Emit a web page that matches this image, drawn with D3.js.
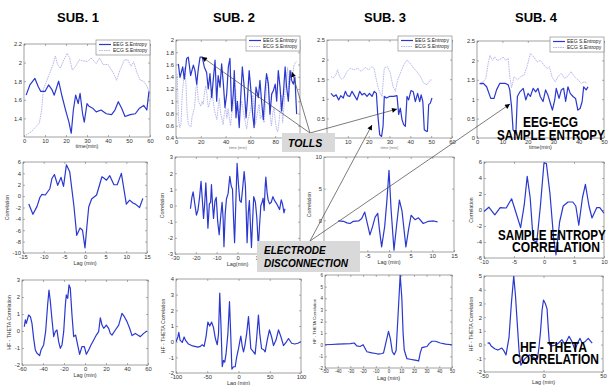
<!DOCTYPE html>
<html>
<head>
<meta charset="utf-8">
<script src="https://cdn.jsdelivr.net/npm/d3@7"></script>
<style>
  body { margin: 0; background: #fff; }
  svg { display: block; }
  text { font-family: Arial, "Liberation Sans", sans-serif; }
</style>
</head>
<body>
<svg id="fig" width="608" height="385"></svg>
<script>
const subjects = ['SUB. 1', 'SUB. 2', 'SUB. 3', 'SUB. 4'];
const legendNames = ['EEG S.Entropy', 'ECG S.Entropy'];

// Row 1: sample entropy over time, [time (min), entropy]
const eeg1 = [[1,1.65],[2.8,1.76],[5.2,1.83],[6.8,1.74],[8,1.69],[10,1.69],[11.7,1.76],[13.3,1.71],[14.4,1.65],[16.5,1.8],[18.2,1.63],[19.8,1.49],[21.4,1.36],[22.5,1.24],[23.5,1.49],[24.6,1.65],[25.8,1.56],[26.7,1.67],[27.9,1.45],[28.7,1.36],[30,1.56],[31,1.53],[32.7,1.51],[34.4,1.47],[36.7,1.49],[39.2,1.45],[41.7,1.44],[43.3,1.49],[44.9,1.58],[46.5,1.51],[48.1,1.42],[50.6,1.44],[53,1.45],[55,1.51],[57,1.54],[58.5,1.49],[59.5,1.69]];
const ecg1 = [[1,1.22],[3.6,1.26],[5.7,1.31],[7.3,1.35],[8.4,1.49],[9.2,1.71],[10.9,1.81],[12.5,1.9],[13.8,1.98],[14.9,2.07],[16,1.98],[17.3,1.94],[19,2.03],[20.6,2.1],[21.7,2.05],[23,1.92],[24.6,1.96],[26.3,2.03],[28,2.02],[30.3,2.01],[31.9,2.05],[34.4,1.99],[36,2.05],[37.6,1.98],[40,1.98],[42.5,1.89],[44.1,1.81],[45.7,1.92],[47.8,2.03],[49.4,2.03],[51,1.96],[52.2,2.01],[53.8,1.89],[55.4,1.81],[57,1.8],[58.7,1.74],[59.8,1.67]];
const eeg2 = [[1.9,1.61],[3.2,1.39],[5.4,1.56],[6.7,1.36],[8.6,1.7],[9.9,1.72],[11.8,1.42],[14,1.59],[15.3,1.5],[16.7,1.28],[18,1.53],[19.4,1.72],[21.2,1.72],[22.8,1.56],[24.7,1.47],[26,1.2],[27.4,1.45],[28.8,1.06],[30,1.34],[31.5,1.67],[32.8,1],[34,1.42],[35.5,1.23],[36.8,1.61],[38.2,1.28],[39.5,0.9],[40.9,1.12],[42.2,1.56],[43.5,1.7],[44.9,0.84],[46.2,1.12],[47,1.5],[48.4,0.73],[49.5,1],[51,0.57],[52,1],[53.5,1.56],[54.8,1.28],[56.5,0.73],[57.5,1],[59,1.5],[60.2,1.23],[61.8,0.79],[63,0.57],[64.5,1.23],[66.4,1.06],[67.7,1.34],[69,1],[70.4,0.7],[71.8,1.17],[73,1.45],[74.5,1.28],[75.8,0.79],[77.2,1.12],[78.5,1.17],[80,1.28],[81.2,1],[82.5,1.5],[83.9,1.23],[85.2,0.84],[86.6,1.12],[88,1.56],[89.2,1.23],[90.6,1],[92,1.5],[93.3,1.34],[94.6,1.28],[95.9,1.39],[97.3,0.79]];
const ecg2 = [[1,1.45],[2,0.7],[3,0.57],[4,0.62],[5,1.1],[7,1.55],[8,1.3],[9,0.8],[10,0.62],[12,0.58],[13,0.75],[15,0.9],[16,1.2],[17,1.3],[18,1],[20,0.92],[21,1],[22,0.95],[23,1.15],[24,1.25],[25,1.1],[26,0.9],[27,0.95],[29,1.2],[30,1],[31,0.85],[33,0.7],[34,0.9],[35,1.05],[36,0.8],[38,0.62],[39,0.8],[40,0.9],[41,0.72],[42,0.88],[44,0.6],[45,0.8],[47,1],[48,1.2],[49,0.9],[51,0.8],[52,0.9],[53,1],[55,0.75],[57,0.55],[58,0.7],[60,0.85],[62,1.1],[63,0.85],[64,0.62],[66,0.85],[67,0.95],[68,0.72],[70,0.8],[71,0.65],[72,0.9],[73,1.2],[74,1.4],[75,1.05],[76,0.75],[77,0.6],[78,0.8],[79,0.9],[80,0.7],[81,0.55],[82,0.5],[83,0.65],[84,0.85],[85,1.1],[86,0.65],[87,0.9],[88,1.2],[89,1.35],[90,1.55],[91,1.2],[92,1.3],[93,1.5],[94,1.4],[95,1.58],[96,1.62],[97,1.65]];
const eeg3 = [[1.9,1.14],[3.2,1.06],[4.4,1.1],[5.6,0.97],[6.6,1.08],[7.8,1.02],[8.8,1.19],[9.8,1.08],[10.9,1.06],[12,1.19],[13,1.1],[14.4,0.97],[15.7,1.19],[16.8,1.1],[18,1.14],[19.2,1.06],[20.4,1.14],[21.6,1.06],[22.7,1.19],[23.7,1.14],[24.3,0.64],[25.3,0.08],[26.2,0.04],[26.9,0.3],[27.5,1.06],[28.5,1.02],[30,1.06],[32,1.06],[33.6,1.08],[34.4,0.6],[35.2,0.76],[36,0.47],[36.8,0.34],[37.6,0.3],[38.4,1.06],[39.2,0.97],[40.3,1.21],[41.4,1.18],[42.4,0.93],[43.5,1.14],[44.5,0.93],[45.2,1.1],[46,0.93],[46.7,0.21],[47.7,0.17],[48.2,0.17],[48.8,0.85],[49.6,0.89],[50.4,1.02]];
const ecg3 = [[1.9,1.57],[3,1.53],[4.2,1.6],[5.1,1.74],[6,1.57],[7,1.5],[8,1.53],[9.6,1.69],[11.2,1.78],[13,1.74],[14.7,1.78],[16.4,1.7],[18.4,1.8],[20,1.74],[21.6,1.82],[22.6,1.78],[23.7,1.48],[24.8,1.23],[26.4,1.06],[27.5,1.78],[29,1.82],[30.4,1.65],[31.7,1.31],[32.8,1.19],[33.9,1.48],[35.2,1.65],[36.8,1.86],[38.4,1.99],[40,1.9],[41.6,1.78],[43.2,1.69],[44.8,1.57],[46.4,1.4],[48,1.36],[49.6,1.48],[50.4,1.48]];
const eeg4 = [[1,1.4],[2.5,1.41],[3.8,1.32],[5.4,1.02],[6.7,1.02],[7.7,1.24],[9,1.41],[11,1.41],[12.3,1.37],[12.9,1.24],[13.6,0.81],[14.2,0.21],[15.3,0.12],[15.9,1.07],[16.9,1.19],[18.2,1.28],[19.2,0.98],[20.1,1.15],[21,1.07],[22.1,1.28],[23.1,1.19],[24,1.28],[24.9,1.07],[26,0.94],[27,1.24],[27.9,1.11],[28.9,0.89],[29.7,0.72],[30.6,0.98],[31.2,1.28],[32.3,1.02],[33.2,1.24],[34.1,1.28],[34.9,0.94],[35.8,1.32],[36.7,1.15],[37.8,1.07],[38.8,1.02],[39.7,0.72],[40.6,0.76],[41.4,0.94],[42,1.32],[43,1.24],[43.7,1.32]];
const ecg4 = [[1.2,1.41],[2.5,1.45],[3.5,1.54],[4.4,1.92],[5.1,2.13],[6.1,2],[7,2.09],[7.9,2],[9,2.02],[10.3,2.09],[11.3,2],[12.3,2.05],[12.9,1.58],[13.6,1.3],[14.6,1.58],[15.9,1.5],[17.2,1.58],[18.5,1.62],[19.7,1.84],[21,2.18],[22.3,2.09],[23.7,1.96],[25,2],[26.3,1.88],[27.6,1.79],[28.5,1.84],[29.5,1.58],[30.8,1.45],[31.9,1.58],[33.2,1.67],[34.4,1.54],[35.6,1.58],[37,1.71],[38.4,1.58],[39.7,1.5],[41,1.41],[42.3,1.45],[43.4,1.41]];

// Row 2: sample entropy cross-correlation, [lag (min), correlation]
const seCorr1 = [[-13.6,-1.4],[-12.6,-3.2],[-11.6,-1.8],[-10.9,-0.2],[-10.4,0.3],[-9.6,0.2],[-8.9,0.9],[-8.5,1.3],[-8,3.1],[-7.4,3.8],[-6.6,1.9],[-5.8,3.3],[-5.2,1.7],[-4.5,5.5],[-3.7,4.3],[-2.7,-1.6],[-2,-6.9],[-1.2,-5.6],[-0.6,-6],[0,-9.1],[0.5,-5],[0.9,-1.9],[1.6,-0.5],[2.8,0.2],[4.1,3.4],[4.7,3.1],[5.2,2.8],[6,3.6],[7,2],[7.8,2],[8.8,4],[10,-1.4],[10.8,-0.7],[11.6,-1.2],[12.2,-1.4],[13.2,-2],[14,-0.4]];
const seCorr2 = [[-22.6,-0.2],[-21.9,0.5],[-21.3,0.85],[-20.5,0.1],[-19.7,-0.6],[-19,-0.3],[-18.2,0.5],[-17.5,1.5],[-16.8,0.2],[-16.3,-0.8],[-15.7,0.2],[-15.2,1.4],[-14.7,0.1],[-14.2,-1.4],[-13.5,0.1],[-12.9,0.2],[-12.5,1.3],[-12,0.1],[-11.5,-0.8],[-10.8,0.3],[-10.2,0.5],[-9.5,-1],[-8.8,-1.8],[-8,-0.6],[-7.4,0.2],[-6.9,-0.8],[-6.5,-2.55],[-5.9,-0.5],[-5.3,0.4],[-4.5,0.75],[-3.7,1.8],[-3,1.2],[-2.4,1],[-1.9,-0.8],[-1.4,-2.3],[-0.8,0.2],[-0.2,2.6],[0.4,1.4],[1.1,0.3],[1.8,0.2],[2.5,1.1],[3.2,2.1],[3.8,1.2],[4.2,-0.5],[4.6,-2.3],[5.2,-0.4],[5.7,0.3],[6.2,-1.2],[6.7,-2.6],[7.3,-0.8],[7.8,0.55],[8.6,0.2],[9.3,-0.8],[10,-2.6],[10.6,-1.2],[11.2,0],[11.8,0.2],[12.3,0.45],[12.8,-0.3],[13.3,1.2],[13.6,1.75],[14.2,0.8],[14.7,0.35],[15.4,0.1],[16.2,0.2],[17,0.55],[17.8,0.3],[18.6,0.15],[19.4,-0.05],[20.2,-0.25],[21,0.35],[21.6,0.1],[22.3,-0.45],[22.8,-0.2]];
const seCorr3 = [[-11.7,-0.1],[-10.5,-0.15],[-9.7,-0.4],[-9,-0.5],[-8.2,-0.15],[-7,-0.1],[-6.3,0.3],[-5.6,1.3],[-4.9,-0.8],[-4.4,-2.3],[-3.8,-1],[-3.2,0.5],[-2.6,1.1],[-2.2,-1.5],[-1.7,-4.2],[-1,-1],[-0.5,3],[0,7.9],[0.5,1.5],[1.15,-4.7],[1.8,-0.5],[2.4,3.2],[3,1.5],[3.9,-4.2],[4.5,-1.5],[5.1,0.8],[6,0.1],[6.8,0.4],[7.9,-0.5],[9.1,-0.15],[10.3,-0.1],[11.2,-0.25]];
const seCorr4 = [[-10,-0.2],[-9.2,0.35],[-8.2,-0.6],[-7.3,0.3],[-6.3,0.25],[-5.4,1.4],[-4.6,-0.5],[-3.9,-2.2],[-3.3,0.6],[-2.8,4.2],[-2.3,1.5],[-1.8,-3.8],[-1.2,-4],[-0.6,0.5],[0,5.9],[0.4,5.8],[1,2],[1.6,-3.5],[2,-5.6],[2.6,-1.5],[3.2,0.5],[4,1],[4.8,1],[5.3,0.5],[5.8,-1.9],[6.4,1.5],[6.9,3.2],[7.5,0.5],[8,-1],[8.8,0.3],[9.3,0.3],[10,-0.4]];

// Row 3: HF - THETA cross-correlation, [lag (min), correlation]
const hfTheta1 = [[-57.8,0.25],[-56.8,0.65],[-55.9,0.45],[-53.7,0.94],[-52,0.84],[-50.5,0.45],[-48.9,-0.43],[-47.3,-1.12],[-45.7,-1.31],[-43.2,-1.45],[-41.9,-1.12],[-39.4,-0.82],[-37.5,-0.04],[-35.6,1.53],[-34.3,2.41],[-33,1.73],[-31.4,0.65],[-29.8,-0.33],[-28.3,-0.04],[-26.7,0.06],[-25.1,-0.63],[-23.5,-1.02],[-21.9,-0.82],[-20.3,-0.04],[-18.7,1.53],[-17.8,2.12],[-16.5,1.92],[-15.2,2.71],[-14,2.51],[-12.4,0.94],[-10.8,-0.33],[-8.9,-0.24],[-7,-0.82],[-5.1,-1.37],[-2.9,-0.92],[-0.6,-0.92],[1.3,-1.37],[3.5,-1.12],[5.7,-0.82],[8.3,-0.53],[10.8,-0.24],[13,-0.04],[14.6,0.78],[16.2,0.35],[17.8,0.16],[20.3,0.35],[22.5,0.16],[24.1,-0.14],[25.7,-0.24],[28.9,0.06],[32.1,0.35],[35.2,1.04],[37.5,0.84],[40,0.55],[42.5,0.16],[44.8,-0.27],[47.9,-0.14],[50.2,-0.24],[52.7,-0.33],[55.9,-0.14],[59,0]];
const hfTheta2 = [[-100,0],[-97,0.3],[-95.5,0.6],[-93.5,0.1],[-90,-0.05],[-87,0.3],[-85,0.1],[-80,-0.15],[-75,-0.25],[-70,-0.3],[-65,-0.35],[-61,-0.3],[-58,-0.2],[-55,-0.3],[-52,0.3],[-49,1.25],[-46,1],[-43,1.25],[-40,0.9],[-37,0.2],[-34,-0.2],[-32,0.5],[-30,3.1],[-28,1],[-26,-1.6],[-24,-1.2],[-22,-1.3],[-20,-0.8],[-17,0.5],[-14.4,2.55],[-12.5,0.5],[-10.6,-1.75],[-8,-1.6],[-5.3,-1.6],[-3,-1],[0,-0.45],[2,0],[3.7,0.35],[6,-0.3],[8,-0.65],[10,-0.3],[13,0.5],[16,1.6],[18,0.5],[19.7,-0.45],[23,-0.6],[26.6,-0.8],[29,0.2],[31.9,1.7],[34,0.5],[37,-0.45],[40,-0.5],[42.6,-0.65],[46,0.1],[49.5,0.75],[53,0.3],[56,-0.25],[60,0.1],[64,0.75],[68,0.3],[72,-0.25],[76,-0.05],[80,0.2],[85,-0.1],[90,-0.15],[95,-0.1],[100,0]];
const hfTheta3 = [[-50,0],[-45,0.02],[-40,0.05],[-35,0.08],[-30,0.1],[-27,0.15],[-25,-0.1],[-22.4,-0.15],[-20,0],[-18.5,-0.3],[-17,-0.6],[-13,-0.7],[-10,-0.75],[-7.9,-0.8],[-5,-0.75],[-3.9,-0.7],[-2,0.2],[0,1.15],[1.5,0.5],[3,-0.6],[4.5,-0.85],[6,-0.5],[7.5,2.5],[9.2,6],[10.5,4],[11.5,1],[12.4,-0.45],[14.5,-1.2],[17,-1.25],[19.7,-1.3],[22,-1.35],[23.7,-1.4],[25,-0.7],[26.3,-0.25],[28,-0.2],[30.3,-0.15],[32,0.1],[34.2,0.3],[37,0.3],[40.8,0.15],[45,0.05],[50,0]];
const hfTheta4 = [[-47,0.1],[-45.5,0.12],[-44,-0.1],[-41,-0.3],[-38.4,-0.4],[-35,-0.25],[-33,-0.5],[-31.5,-0.75],[-29,0.5],[-27,3],[-25,5],[-23.5,3.5],[-21.8,1.2],[-20.5,-0.5],[-19,-1.5],[-17.5,-1.3],[-16.3,-1.1],[-14,-0.9],[-12,-0.75],[-9,-0.9],[-5.2,-1.1],[-3.8,-0.2],[-2.5,0.95],[-1.2,2.5],[0,3.25],[1.5,3],[3,2.6],[4,1.2],[5,0],[7,-0.1],[10,-0.05],[12.5,0.1],[15.5,0.35],[18,0],[21.5,0.6],[24,0.2],[26.5,-0.4],[28.5,0.1],[30.7,0.45],[32.5,0.1],[34.8,0.2],[37.6,0.45],[39.5,0.25],[40.9,0.1]];

// tick values per panel, row by row (labels hidden under the callout boxes are left out)
const xTicks = [
  [0,10,20,30,40,50,60], [0,20,40,60,80], [10,20,30,40,50,60], [0,10,20,30,40,50],
  [-15,-10,-5,0,5,10,15], [-30,-20,-10,0,10], [-10,-5,0,5,10,15], [-10,-5,0,5,10],
  [-60,-40,-20,0,20,40,60], [-100,-50,0,50,100], [-50,-40,-30,-20,-10,0,10,20,30,40,50], [-50,0,50]
];
const yTicks = [
  [1.4,1.6,1.8,2,2.2], [0.4,0.6,0.8,1,1.2,1.4,1.6,1.8,2], [0,0.5,1,1.5,2,2.5], [0,0.5,1,1.5,2,2.5],
  [-10,-8,-6,-4,-2,0,2,4,6], [-3,-2,-1,0,1,2,3], [0,5,10], [-6,-4,-2,0,2,4,6],
  [-2,-1,0,1,2,3], [-2,-1,0,1,2,3,4], [-2,-1,0,1,2,3,4,5,6], [-2,-1,0,1,2,3,4,5]
];

// layout: box = [left, right, top, bottom] in px
const panels = [
  {box:[24,150,44,137], xd:[0,60], yd:[1.2,2.2], xl:'time(min)', lines:[ecg1, eeg1], legend:true},
  {box:[176,300,40,138], xd:[0,100], yd:[0.4,2], xl:'time (min)', faint:true, lines:[ecg2, eeg2], legend:true},
  {box:[327,452,40,138], xd:[0,60], yd:[0,2.5], xl:'time (min)', faint:true, lines:[ecg3, eeg3], legend:true},
  {box:[477,604,41,138], xd:[0,50], yd:[0,2.5], xl:'time(min)', lines:[ecg4, eeg4], legend:true},
  {box:[23,147,162,253], xd:[-15,15], yd:[-10,6], xl:'Lag (min)', yl:'Correlation', yo:-14, lines:[seCorr1]},
  {box:[175,300,157,254], xd:[-30,30], yd:[-3,3], xl:'Lag(min)', yl:'Correlation', yo:-11, lines:[seCorr2]},
  {box:[324,454,157,252], xd:[-15,15], yd:[-5,10], xl:'Lag (min)', yl:'Correlation', yo:-13, lines:[seCorr3]},
  {box:[484,604,162,258], xd:[-10,10], yd:[-6,6], xl:'', yl:'Correlation', yo:-11, lines:[seCorr4]},
  {box:[22,148,280,365], xd:[-60,60], yd:[-2,3], xl:'Lag (min)', yl:'HF - THETA Correlation', yo:-11, lines:[hfTheta1]},
  {box:[176,301,279,373], xd:[-100,100], yd:[-2,4], xl:'Lag (min)', yl:'HF - THETA Correlation', yo:-11, lines:[hfTheta2]},
  {box:[325,452,275,368], xd:[-50,50], yd:[-2,6], xl:'Lag (min)', yl:'HF - THETA Correlation', yo:-9.5, small:true, lines:[hfTheta3]},
  {box:[484,603,276,372], xd:[-50,50], yd:[-2,5], xl:'Lag (min)', yl:'HF - THETA Correlation', yo:-11, lines:[hfTheta4]}
];

const blue = '#2a38cf', lavender = '#aeb0e8';
const svg = d3.select('#fig');
const defs = svg.append('defs');
defs.append('marker').attr('id', 'ah').attr('viewBox', '0 0 10 10')
  .attr('refX', 10).attr('refY', 5).attr('markerWidth', 6).attr('markerHeight', 5)
  .attr('markerUnits', 'userSpaceOnUse').attr('orient', 'auto')
  .append('path').attr('d', 'M0,0L10,5L0,10z').attr('fill', '#000');

// column titles
const titleX = [78, 234, 385, 536];
svg.selectAll('text.title').data(subjects).join('text')
  .attr('class', 'title').attr('x', (d, i) => titleX[i]).attr('y', 22)
  .attr('text-anchor', 'middle').attr('font-size', 13).attr('font-weight', 'bold')
  .text(d => d);

const fmt = d => String(d);

panels.forEach((p, i) => {
  const [x0, x1, y0, y1] = p.box;
  const x = d3.scaleLinear().domain(p.xd).range([x0, x1]);
  const y = d3.scaleLinear().domain(p.yd).range([y1, y0]);
  const g = svg.append('g');
  const fs = p.small ? 4.5 : 5.8;

  defs.append('clipPath').attr('id', 'clip' + i).append('rect')
    .attr('x', x0).attr('y', y0).attr('width', x1 - x0).attr('height', y1 - y0);

  g.append('rect').attr('x', x0).attr('y', y0).attr('width', x1 - x0).attr('height', y1 - y0)
    .attr('fill', '#fff').attr('stroke', '#7a7a7a').attr('stroke-width', 0.7);

  const axes = [
    [d3.axisBottom(x).tickValues(xTicks[i]).tickFormat(fmt), `translate(0,${y1})`],
    [d3.axisTop(x).tickValues(xTicks[i]).tickFormat(''), `translate(0,${y0})`],
    [d3.axisLeft(y).tickValues(yTicks[i]).tickFormat(fmt), `translate(${x0},0)`],
    [d3.axisRight(y).tickValues(yTicks[i]).tickFormat(''), `translate(${x1},0)`]
  ];
  axes.forEach(([ax, tr]) => {
    const a = g.append('g').attr('transform', tr)
      .call(ax.tickSize(-2).tickPadding(2));
    a.select('.domain').remove();
    a.selectAll('line').attr('stroke', '#7a7a7a').attr('stroke-width', 0.6);
    a.selectAll('text').attr('font-size', fs).attr('fill', '#333')
      .attr('font-family', 'Arial, "Liberation Sans", sans-serif');
  });

  const line = d3.line().x(d => x(d[0])).y(d => y(d[1]));
  p.lines.forEach((s, k) => {
    const isEcg = p.legend && k === 0;
    g.append('path').datum(s).attr('d', line)
      .attr('clip-path', `url(#clip${i})`)
      .attr('fill', 'none')
      .attr('stroke', isEcg ? lavender : blue)
      .attr('stroke-width', isEcg ? 0.9 : 1.2)
      .attr('stroke-dasharray', isEcg ? '1.6,0.8' : null)
      .attr('stroke-linejoin', 'round');
  });

  if (p.xl) {
    g.append('text').attr('x', (x0 + x1) / 2).attr('y', y1 + (p.legend ? 11 : 12))
      .attr('text-anchor', 'middle').attr('font-size', p.faint ? 4 : 5.5)
      .attr('fill', p.faint ? '#777' : '#333').text(p.xl);
  }
  if (p.yl) {
    g.append('text').attr('transform', `translate(${x0 + p.yo},${(y0 + y1) / 2}) rotate(-90)`)
      .attr('text-anchor', 'middle').attr('font-size', p.small ? 4.3 : 5.2)
      .attr('fill', '#333').text(p.yl);
  }

  if (p.legend) {
    const lw = 54, lh = 15, lx = x1 - lw, ly = y0 - 4;
    const lg = g.append('g');
    lg.append('rect').attr('x', lx).attr('y', ly).attr('width', lw).attr('height', lh)
      .attr('fill', '#fff').attr('stroke', '#7a7a7a').attr('stroke-width', 0.6);
    legendNames.forEach((name, k) => {
      const yy = ly + 4.5 + k * 6;
      lg.append('line').attr('x1', lx + 3).attr('x2', lx + 15).attr('y1', yy).attr('y2', yy)
        .attr('stroke', k === 0 ? blue : lavender).attr('stroke-width', k === 0 ? 1.2 : 0.9)
        .attr('stroke-dasharray', k === 0 ? null : '1.6,0.8');
      lg.append('text').attr('x', lx + 17).attr('y', yy + 1.8).attr('font-size', 5)
        .attr('fill', '#222').text(name);
    });
  }
});

// annotation pointers: [fromX, fromY, toX, toY]
const tollArrows = [[310,133,202,57],[310,133,292,72],[310,133,397,109]];
const electrodeArrows = [[310,241,372,125],[310,241,510,104]];
svg.selectAll('line.ptr').data(tollArrows.concat(electrodeArrows)).join('line')
  .attr('class', 'ptr')
  .attr('x1', d => d[0]).attr('y1', d => d[1]).attr('x2', d => d[2]).attr('y2', d => d[3])
  .attr('stroke', '#444').attr('stroke-width', 0.7).attr('marker-end', 'url(#ah)');

// grey callout boxes
svg.append('rect').attr('x', 282).attr('y', 133).attr('width', 53).attr('height', 19).attr('fill', '#d9d9d9');
svg.append('text').attr('x', 288).attr('y', 147).attr('font-size', 10.5)
  .attr('font-weight', 'bold').attr('font-style', 'italic').text('TOLLS');
svg.append('rect').attr('x', 257).attr('y', 241).attr('width', 103).attr('height', 31).attr('fill', '#d9d9d9');
svg.append('text').attr('x', 264).attr('y', 254).attr('font-size', 10)
  .attr('font-weight', 'bold').attr('font-style', 'italic').text('ELECTRODE');
svg.append('text').attr('x', 264).attr('y', 267).attr('font-size', 10)
  .attr('font-weight', 'bold').attr('font-style', 'italic').text('DISCONNECTION');

// big row labels on the right column: [text, left x, baseline, width]
// the lettering is narrower than Arial bold, so each label is squeezed horizontally
const rowLabels = [
  ['EEG-ECG', 523, 127, 55], ['SAMPLE ENTROPY', 497, 140, 108],
  ['SAMPLE ENTROPY', 498, 240, 108], ['CORRELATION', 512, 252, 88],
  ['HF - THETA', 520, 352, 67], ['CORRELATION', 512, 364, 87]
];
rowLabels.forEach(([label, lx, ly, w]) => {
  const g = svg.append('g');
  const t = g.append('text').attr('x', 0).attr('y', 0)
    .attr('font-size', 14.5).attr('font-weight', 'bold').attr('fill', '#000').text(label);
  const natural = t.node().getComputedTextLength();
  g.attr('transform', `translate(${lx},${ly}) scale(${w / natural},1)`);
});
</script>
</body>
</html>
